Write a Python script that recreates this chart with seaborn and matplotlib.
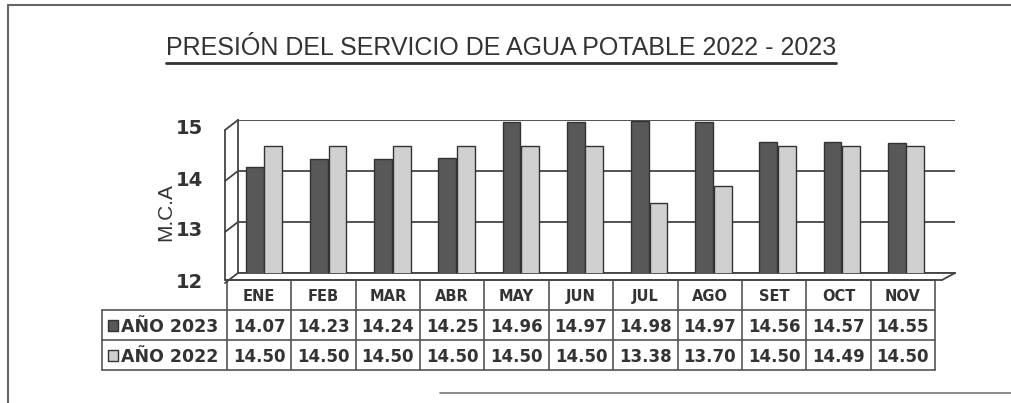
import numpy as np
import pandas as pd
import seaborn as sns
import matplotlib.pyplot as plt
from matplotlib.lines import Line2D
from matplotlib.patches import Rectangle
from matplotlib.transforms import ScaledTranslation

# %% datos
meses = ["ENE", "FEB", "MAR", "ABR", "MAY", "JUN", "JUL", "AGO", "SET", "OCT", "NOV"]
anio_2023 = [14.07, 14.23, 14.24, 14.25, 14.96, 14.97, 14.98, 14.97, 14.56, 14.57, 14.55]
anio_2022 = [14.50, 14.50, 14.50, 14.50, 14.50, 14.50, 13.38, 13.70, 14.50, 14.49, 14.50]
series = ["AÑO 2023", "AÑO 2022"]
y_ticks = [12, 13, 14, 15]
titulo = "PRESIÓN DEL SERVICIO DE AGUA POTABLE 2022 - 2023"

colores = ["#585858", "#d0d0d0"]
linea = "#444444"

# %% figura
W, H = 1011, 403
fx = lambda x: x / W
fy = lambda y: 1 - y / H

sns.set_theme(style="white")
plt.rcParams['font.family'] = ['DejaVu Sans']

fig = plt.figure(figsize=(W / 100, H / 100), dpi=100)

df = pd.DataFrame({
    "mes": meses * 2,
    "serie": [series[0]] * len(meses) + [series[1]] * len(meses),
    "valor": anio_2023 + anio_2022,
})

ax = fig.add_axes([fx(238), fy(273), fx(955) - fx(238), fy(120) - fy(273)])
sns.barplot(data=df, x="mes", y="valor", hue="serie", palette=colores,
            width=0.58, gap=0.05, edgecolor="#333333", linewidth=1.0,
            legend=False, ax=ax, zorder=3)
ax.set_ylim(12, 15)
ax.set_xlim(-0.405, -0.405 + 717 / 64.2)
ax.set_yticks(y_ticks)
ax.set_yticklabels([str(v) for v in y_ticks], fontsize=14, fontweight="bold", color="#333333")
ax.tick_params(axis="y", length=0, pad=25)
for lab in ax.get_yticklabels():
    lab.set_transform(lab.get_transform() + ScaledTranslation(0, -0.07, fig.dpi_scale_trans))
ax.set_xticks(range(len(meses)))
ax.set_xticklabels([])
ax.tick_params(axis="x", length=0)
ax.set_xlabel("")
ax.set_ylabel("")
ax.yaxis.grid(True, color=linea, lw=1.3, zorder=0)
ax.set_axisbelow(True)
for s in ["top", "right"]:
    ax.spines[s].set_visible(False)
for s in ["left", "bottom"]:
    ax.spines[s].set_color(linea)
    ax.spines[s].set_linewidth(1.3)

# pared lateral y piso (efecto 3D)
fig.add_artist(Line2D([fx(225), fx(225)], [fy(130), fy(280)], color=linea, lw=1.3))
for v in y_ticks:
    yb = 273 - (v - 12) * 51
    fig.add_artist(Line2D([fx(238), fx(225)], [fy(yb), fy(yb + 10)], color=linea, lw=1.3))
fig.add_artist(Line2D([fx(955), fx(942)], [fy(273), fy(280)], color=linea, lw=1.3))
fig.add_artist(Line2D([fx(225), fx(942)], [fy(280), fy(280)], color=linea, lw=1.3))

fig.text(fx(166), fy(212), "M.C.A", rotation=90, ha="center", va="center",
         fontsize=15, color="#333333", family=["Liberation Sans"])

# %% tabla
col = 64.36
izq = -0.5 - 125 / col
tab = fig.add_axes([fx(102), fy(370), fx(935) - fx(102), fy(280) - fy(370)])
tab.set_xlim(izq, len(meses) - 0.5)
tab.set_ylim(3, 0)
tab.axis("off")
kw = dict(color="#555555", lw=1.2, clip_on=False)
tab.plot([-0.5, len(meses) - 0.5], [0, 0], **kw)
for r in [1, 2, 3]:
    tab.plot([izq, len(meses) - 0.5], [r, r], **kw)
for k in range(len(meses) + 1):
    tab.plot([k - 0.5, k - 0.5], [0, 3], **kw)
tab.plot([izq, izq], [1, 3], **kw)

for i, m in enumerate(meses):
    tab.text(i, 0.55, m, ha="center", va="center", fontsize=10.5, fontweight="bold", color="#333333")
    tab.text(i, 1.55, f"{anio_2023[i]:.2f}", ha="center", va="center", fontsize=12, fontweight="bold", color="#333333")
    tab.text(i, 2.55, f"{anio_2022[i]:.2f}", ha="center", va="center", fontsize=12, fontweight="bold", color="#333333")
for r, (s, c) in enumerate(zip(series, colores)):
    tab.add_patch(Rectangle((izq + 0.09, r + 1.32), 0.16, 0.38, facecolor=c, edgecolor="#333333", lw=1.0, clip_on=False))
    tab.text(izq + 0.29, r + 1.55, s, ha="left", va="center", fontsize=12.5, fontweight="bold", color="#333333")

# %% titulo y marco
t = fig.text(fx(501), fy(48), titulo, ha="center", va="center", fontsize=18,
             color="#333333", family=["Liberation Sans"])
fig.canvas.draw()
bb = t.get_window_extent()
fig.add_artist(Line2D([bb.x0 / W, bb.x1 / W], [fy(63), fy(63)], color="#333333", lw=2.0))

fig.add_artist(Line2D([fx(8), 1], [fy(5), fy(5)], color="#666666", lw=1.5))
fig.add_artist(Line2D([fx(8), fx(8)], [fy(5), 0], color="#666666", lw=1.5))
fig.add_artist(Line2D([fx(440), 1], [fy(393), fy(393)], color="#777777", lw=1.2))

fig.savefig("out.png", dpi=100)
